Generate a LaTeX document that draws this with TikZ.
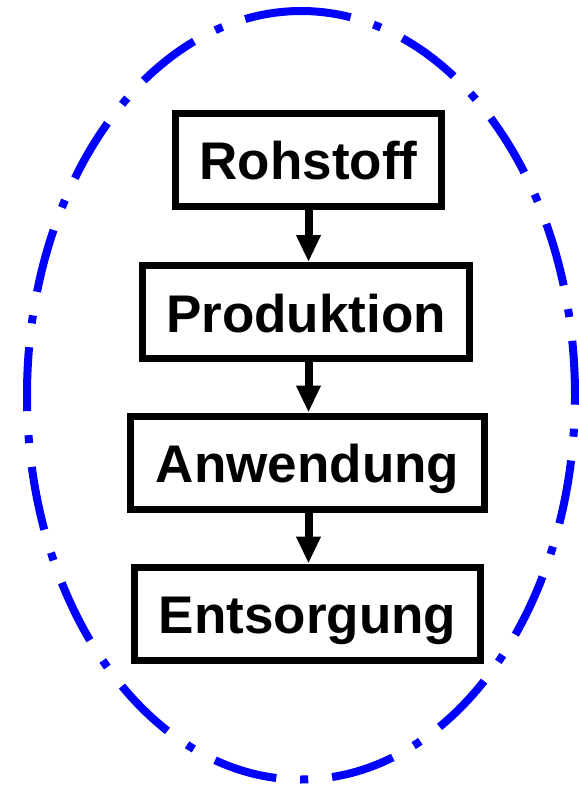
\documentclass[tikz,border=0pt]{standalone}
\usepackage{fontspec}
\setmainfont{Liberation Sans}
\usetikzlibrary{arrows.meta}

\begin{document}
\begin{tikzpicture}[x=1pt, y=1pt,
  stage/.style={draw, line width=7pt, inner sep=0pt, minimum height=93pt,
    text height=40pt, text depth=0pt, font=\bfseries\fontsize{53}{60}\selectfont},
  flow/.style={line width=8pt, -{Triangle[width=23pt, length=27pt]}},
  ring/.style={blue, line width=8pt, dash pattern=on 64pt off 24pt on 8pt off 24pt}]
  \useasboundingbox (0,0) rectangle (578,-786);

  \node[stage, minimum width=266pt] (rohstoff) at (308.5,-160) {Rohstoff};
  \node[stage, minimum width=327pt] (produktion) at (306,-312) {Produktion};
  \node[stage, minimum width=354pt] (anwendung) at (307.5,-462.5) {Anwendung};
  \node[stage, minimum width=346pt] (entsorgung) at (307.5,-613.5) {Entsorgung};

  \draw[flow] (rohstoff.south) -- (rohstoff.south |- produktion.north);
  \draw[flow] (rohstoff.south |- produktion.south) -- (rohstoff.south |- anwendung.north);
  \draw[flow] (rohstoff.south |- anwendung.south) -- (rohstoff.south |- entsorgung.north);

  \draw[ring] (301,-395.25) ++(92.9:274 and 384.25)
    arc[start angle=92.9, end angle=-267.1, x radius=274, y radius=384.25];
\end{tikzpicture}
\end{document}
